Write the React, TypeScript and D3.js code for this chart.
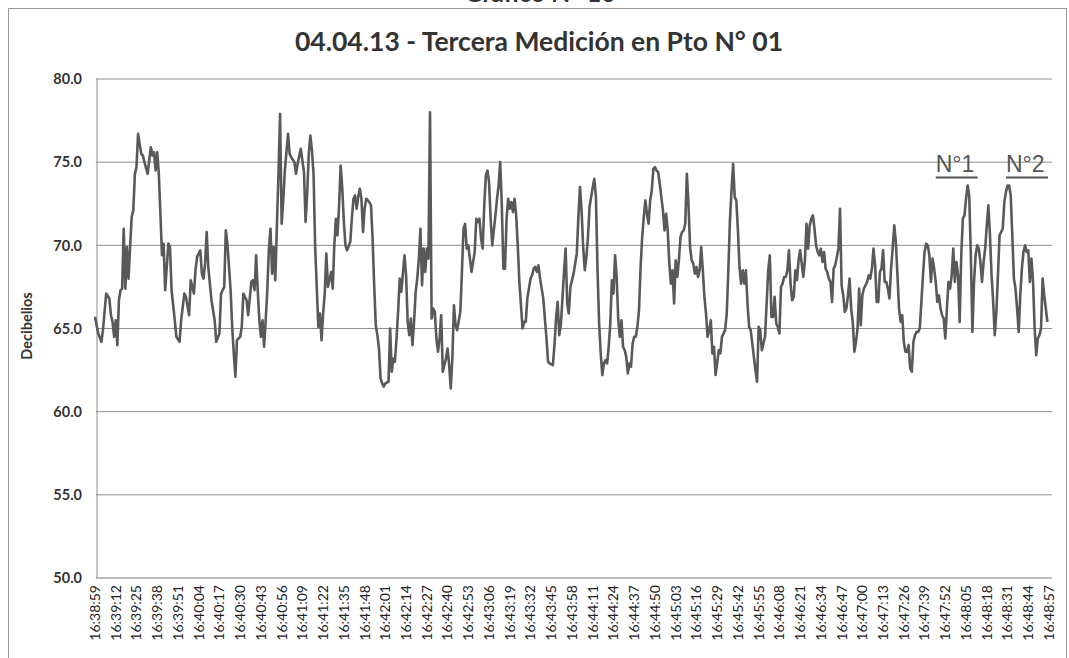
import * as React from "react";
import * as d3 from "d3";

// x axis tick labels (every 13 s)
const timeLabels = [
  "16:38:59", "16:39:12", "16:39:25", "16:39:38", "16:39:51", "16:40:04", "16:40:17", "16:40:30",
  "16:40:43", "16:40:56", "16:41:09", "16:41:22", "16:41:35", "16:41:48", "16:42:01", "16:42:14",
  "16:42:27", "16:42:40", "16:42:53", "16:43:06", "16:43:19", "16:43:32", "16:43:45", "16:43:58",
  "16:44:11", "16:44:24", "16:44:37", "16:44:50", "16:45:03", "16:45:16", "16:45:29", "16:45:42",
  "16:45:55", "16:46:08", "16:46:21", "16:46:34", "16:46:47", "16:47:00", "16:47:13", "16:47:26",
  "16:47:39", "16:47:52", "16:48:05", "16:48:18", "16:48:31", "16:48:44", "16:48:57",
];

const yTicks = [50, 55, 60, 65, 70, 75, 80];

// [seconds after 16:38:59, dB]
const readings: [number, number][] = [
  [0, 65.7], [2, 64.7], [4, 64.2], [5, 64.9], [7, 67.1], [9, 66.8], [10, 65.8], [11, 65.4], [12, 64.5], [13, 65.5],
  [14, 64.0], [15, 66.7], [16, 67.3], [17, 67.4], [18, 71.0], [19, 67.4], [20, 69.9], [21, 68.0], [22, 69.9], [23, 71.7],
  [24, 72.1], [25, 74.3], [26, 74.7], [27, 76.7], [28, 76.1], [29, 75.5], [30, 75.4], [31, 75.0], [33, 74.3], [35, 75.9],
  [36, 75.4], [37, 75.6], [38, 74.5], [39, 75.6], [40, 74.3], [41, 71.9], [42, 69.4], [43, 70.1], [44, 67.3], [46, 70.1],
  [47, 69.9], [48, 67.3], [50, 65.5], [51, 64.5], [53, 64.2], [54, 65.5], [56, 67.1], [57, 66.9], [59, 65.8], [60, 67.9],
  [62, 67.1], [63, 68.5], [64, 69.3], [66, 69.7], [67, 68.3], [68, 68.0], [69, 68.9], [70, 70.8], [71, 68.7], [73, 66.7],
  [75, 65.5], [76, 64.2], [78, 64.7], [79, 67.1], [81, 67.5], [82, 70.9], [83, 70.1], [85, 67.3], [86, 65.1], [87, 63.5],
  [88, 62.1], [89, 64.3], [91, 64.5], [92, 65.1], [93, 67.1], [95, 66.7], [96, 65.8], [98, 67.8], [99, 67.9], [100, 67.3],
  [101, 69.4], [102, 67.3], [103, 65.5], [104, 64.5], [105, 65.5], [106, 63.9], [107, 65.5], [108, 67.3], [109, 69.8], [110, 71.0],
  [111, 68.3], [112, 69.9], [113, 67.9], [114, 71.1], [115, 74.3], [116, 77.9], [117, 71.3], [118, 72.7], [119, 74.5], [121, 76.7],
  [122, 75.5], [123, 75.3], [125, 75.0], [126, 74.3], [127, 74.9], [129, 75.8], [130, 75.1], [131, 74.4], [132, 71.4], [133, 73.1],
  [134, 75.5], [135, 76.6], [136, 75.7], [137, 74.3], [138, 69.9], [140, 65.1], [141, 65.9], [142, 64.3], [143, 65.9], [144, 67.1],
  [145, 69.5], [146, 67.5], [148, 68.4], [149, 67.4], [150, 70.0], [151, 71.6], [152, 70.6], [153, 72.4], [154, 74.8], [155, 73.4],
  [156, 71.4], [157, 70.0], [158, 69.7], [160, 70.2], [161, 71.6], [162, 72.8], [163, 73.0], [164, 72.2], [165, 72.9], [166, 73.4],
  [167, 72.8], [168, 70.8], [169, 72.2], [170, 72.8], [172, 72.6], [173, 72.4], [174, 70.4], [175, 67.6], [176, 65.2], [177, 64.6],
  [178, 63.8], [179, 62.0], [180, 61.7], [181, 61.5], [182, 61.7], [184, 61.8], [185, 65.0], [186, 62.4], [187, 63.2], [188, 63.0],
  [189, 64.4], [190, 66.0], [191, 68.0], [192, 67.2], [194, 69.4], [195, 68.2], [196, 65.4], [197, 64.6], [198, 65.6], [199, 64.0],
  [200, 65.4], [201, 67.2], [202, 68.0], [203, 69.2], [204, 71.0], [205, 67.6], [206, 69.8], [207, 68.4], [208, 69.8], [209, 69.2],
  [210, 78.0], [211, 65.6], [212, 66.2], [213, 66.0], [214, 64.4], [215, 63.6], [216, 64.4], [217, 65.8], [218, 62.4], [219, 62.8],
  [220, 63.2], [221, 63.8], [222, 62.8], [223, 61.4], [224, 63.2], [225, 66.4], [226, 65.2], [227, 64.9], [229, 66.0], [230, 68.4],
  [231, 71.0], [232, 71.3], [233, 69.8], [234, 70.0], [235, 69.2], [236, 68.4], [238, 69.6], [239, 71.6], [240, 71.4], [241, 71.6],
  [242, 70.4], [243, 69.8], [244, 72.4], [245, 74.2], [246, 74.5], [247, 73.8], [248, 71.6], [249, 70.0], [251, 71.8], [252, 72.8],
  [253, 73.6], [254, 75.0], [255, 72.4], [256, 68.6], [257, 68.6], [258, 71.6], [259, 72.8], [260, 72.2], [261, 72.6], [262, 72.0],
  [263, 72.8], [264, 71.8], [265, 70.0], [266, 67.8], [267, 66.4], [268, 65.0], [269, 65.4], [270, 65.4], [271, 66.8], [273, 68.0],
  [274, 68.2], [275, 68.6], [276, 68.7], [277, 68.4], [278, 68.8], [279, 68.0], [281, 66.8], [282, 65.6], [283, 64.4], [284, 63.0],
  [285, 62.9], [287, 62.8], [288, 64.0], [289, 65.6], [290, 66.6], [291, 64.6], [292, 65.2], [293, 66.8], [294, 68.4], [295, 69.8],
  [296, 66.5], [297, 65.9], [298, 67.5], [300, 68.3], [302, 69.5], [303, 71.7], [304, 73.5], [305, 72.1], [306, 69.9], [307, 68.5],
  [308, 69.3], [309, 70.5], [310, 72.3], [311, 72.9], [312, 73.5], [313, 74.0], [314, 72.9], [315, 68.5], [316, 65.3], [317, 63.5],
  [318, 62.2], [319, 62.9], [320, 63.1], [321, 62.9], [322, 63.9], [323, 65.3], [324, 67.9], [325, 67.1], [326, 69.4], [327, 68.1],
  [328, 65.5], [329, 64.5], [330, 65.5], [331, 63.9], [332, 63.7], [333, 63.3], [334, 62.3], [335, 62.9], [336, 62.7], [337, 64.1],
  [338, 64.5], [339, 64.5], [340, 65.1], [341, 66.1], [342, 68.7], [343, 70.5], [344, 71.7], [345, 72.7], [346, 71.9], [347, 71.3],
  [348, 72.7], [349, 73.3], [350, 74.6], [351, 74.7], [352, 74.5], [353, 74.4], [354, 73.7], [355, 72.9], [356, 72.1], [357, 70.9],
  [358, 71.9], [359, 70.9], [360, 68.9], [361, 67.7], [362, 68.5], [363, 66.5], [364, 69.1], [365, 68.1], [366, 69.1], [367, 70.5],
  [368, 70.8], [369, 70.9], [370, 71.3], [371, 74.3], [372, 72.5], [373, 69.9], [374, 69.1], [375, 68.9], [376, 68.3], [377, 68.7],
  [378, 68.1], [379, 68.5], [380, 69.9], [381, 68.5], [382, 66.9], [383, 65.9], [384, 64.5], [385, 64.9], [386, 65.5], [387, 63.5],
  [388, 63.9], [389, 62.2], [390, 62.9], [391, 63.7], [392, 63.5], [393, 64.5], [395, 64.9], [396, 65.9], [397, 68.5], [398, 71.5],
  [399, 73.3], [400, 74.9], [401, 72.9], [402, 72.7], [403, 70.9], [404, 68.7], [405, 67.7], [406, 68.5], [407, 67.7], [408, 68.5],
  [409, 66.5], [410, 65.1], [411, 64.9], [412, 64.1], [413, 63.3], [414, 62.5], [415, 61.8], [416, 65.1], [417, 64.9], [418, 63.7],
  [419, 64.1], [420, 64.5], [421, 66.5], [422, 68.5], [423, 69.4], [424, 65.7], [425, 65.7], [426, 66.9], [427, 65.3], [428, 65.1],
  [429, 64.7], [430, 67.5], [431, 67.7], [432, 68.1], [433, 68.1], [434, 68.5], [435, 69.7], [436, 67.7], [437, 66.7], [438, 66.9],
  [439, 68.5], [440, 67.9], [441, 69.1], [442, 69.7], [443, 68.9], [444, 68.1], [445, 69.1], [446, 71.3], [447, 69.8], [448, 71.2],
  [449, 71.6], [450, 71.8], [451, 71.0], [452, 70.0], [453, 69.6], [454, 69.4], [455, 69.8], [456, 69.0], [457, 69.6], [458, 68.6],
  [459, 68.4], [460, 68.0], [461, 67.8], [462, 66.6], [463, 68.6], [464, 68.8], [466, 69.8], [467, 72.2], [468, 67.6], [469, 67.0],
  [470, 66.0], [471, 66.2], [472, 67.0], [473, 68.0], [474, 66.2], [475, 65.4], [476, 63.6], [477, 64.2], [478, 65.0], [479, 67.4],
  [480, 65.2], [481, 67.0], [482, 67.4], [483, 67.6], [484, 67.8], [485, 68.2], [486, 68.0], [487, 68.6], [488, 69.8], [489, 68.8],
  [490, 66.6], [491, 66.6], [492, 68.4], [493, 68.6], [494, 69.7], [495, 67.8], [496, 67.8], [497, 67.4], [498, 66.8], [499, 68.6],
  [500, 69.8], [501, 71.2], [502, 70.2], [503, 68.2], [504, 66.2], [505, 65.4], [506, 65.8], [507, 64.2], [508, 63.6], [509, 63.6],
  [510, 64.0], [511, 62.6], [512, 62.4], [513, 64.2], [514, 64.6], [515, 64.8], [516, 64.8], [517, 65.0], [518, 66.6], [519, 68.2],
  [520, 69.6], [521, 70.1], [522, 70.0], [523, 69.4], [524, 67.8], [525, 69.2], [526, 68.6], [527, 67.8], [528, 66.6], [529, 67.0],
  [530, 66.2], [531, 65.8], [532, 65.6], [533, 64.4], [534, 66.2], [535, 67.8], [536, 67.4], [537, 68.2], [538, 69.8], [539, 67.8],
  [540, 69.0], [541, 68.2], [542, 65.4], [543, 69.4], [544, 71.6], [545, 71.8], [546, 72.8], [547, 73.6], [548, 73.0], [549, 69.4],
  [550, 64.8], [551, 67.8], [552, 69.4], [553, 70.0], [554, 69.8], [555, 69.0], [556, 67.8], [557, 69.0], [558, 69.8], [559, 71.2],
  [560, 72.4], [561, 70.6], [562, 68.2], [563, 66.6], [564, 64.6], [565, 66.0], [566, 68.2], [567, 70.6], [568, 70.8], [569, 71.0],
  [570, 72.6], [571, 73.2], [572, 73.6], [573, 73.6], [574, 73.0], [575, 70.6], [576, 68.0], [577, 67.4], [578, 66.2], [579, 64.8],
  [580, 67.0], [581, 68.6], [582, 69.6], [583, 70.0], [584, 69.6], [585, 69.7], [586, 67.8], [587, 69.2], [588, 67.8], [589, 65.0],
  [590, 63.4], [591, 64.4], [592, 64.6], [593, 65.0], [594, 68.0], [595, 67.0], [597, 65.4],
];

// hand-written annotations above the two peaks
const markers = [
  { label: "N°1", sec: 527 },
  { label: "N°2", sec: 571 },
];

const parseTime = d3.timeParse("%H:%M:%S");
const t0 = parseTime(timeLabels[0])!.getTime();
const labelSec = timeLabels.map((s) => (parseTime(s)!.getTime() - t0) / 1000);

export default function App() {
  const width = 1069;
  const height = 658;

  const x = d3.scaleLinear().domain([0, 598]).range([95, 1049]);
  const y = d3.scaleLinear().domain([50, 80]).range([578, 79]);

  const line = d3
    .line<[number, number]>()
    .x((d) => x(d[0]))
    .y((d) => y(d[1]));

  const labelFont = "Lato, 'Open Sans', sans-serif";

  return (
    <svg
      width={width}
      height={height}
      style={{ position: "absolute", left: 0, top: 0, background: "#fff" }}
    >
      {/* chart border */}
      <rect x={8.5} y={8.5} width={1058} height={700} fill="none" stroke="#9a9a9a" strokeWidth={1} />

      <text x={540} y={2} textAnchor="middle" fontFamily={labelFont} fontWeight="bold" fontSize={25} fill="#333">
        Gráfico N° 10
      </text>
      <text x={539} y={51} textAnchor="middle" fontFamily={labelFont} fontWeight="bold" fontSize={26.5} fill="#333">
        04.04.13 - Tercera Medición en Pto N° 01
      </text>

      {/* gridlines */}
      {yTicks.map((v) => (
        <line
          key={v}
          x1={x(0) + 1}
          x2={x(598) + 3}
          y1={y(v)}
          y2={y(v)}
          stroke={v === 50 ? "#777" : "#8f8f8f"}
          strokeWidth={1}
        />
      ))}
      <line x1={97} x2={97} y1={y(80)} y2={y(50)} stroke="#8f8f8f" strokeWidth={1} />

      {yTicks.map((v) => (
        <text
          key={v}
          x={82}
          y={y(v)}
          dy="0.36em"
          textAnchor="end"
          fontFamily={labelFont}
          fontWeight="bold"
          fontSize={14.5}
          fill="#333"
        >
          {d3.format(".1f")(v)}
        </text>
      ))}

      <text
        transform={`translate(32,326) rotate(-90)`}
        textAnchor="middle"
        fontFamily={labelFont}
        fontWeight="bold"
        fontSize={14.5}
        fill="#333"
      >
        Decibelios
      </text>

      {timeLabels.map((s, i) => (
        <text
          key={s}
          transform={`translate(${x(labelSec[i])},585) rotate(-90)`}
          dy="0.35em"
          textAnchor="end"
          fontFamily={labelFont}
          fontSize={14}
          fill="#222"
        >
          {s}
        </text>
      ))}

      <path d={line(readings) ?? ""} fill="none" stroke="#595959" strokeWidth={2.6} strokeLinejoin="round" />

      {markers.map((m) => (
        <g key={m.label}>
          <text
            x={x(m.sec)}
            y={172}
            fontFamily="'Liberation Sans', Arial, sans-serif"
            fontSize={23}
            fill="#555"
          >
            {m.label}
          </text>
          <line x1={x(m.sec)} x2={x(m.sec) + 42} y1={177.5} y2={177.5} stroke="#555" strokeWidth={2} />
        </g>
      ))}
    </svg>
  );
}
